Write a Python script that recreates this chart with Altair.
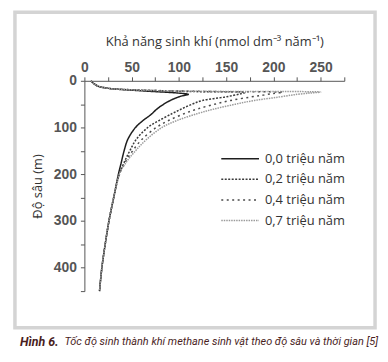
import altair as alt
import pandas as pd

series_names = ["0,0 triệu năm", "0,2 triệu năm", "0,4 triệu năm", "0,7 triệu năm"]

depth_00 = [0, 6, 12, 15, 17, 22, 26, 29, 33, 40, 50, 60, 73, 85, 100, 125, 150, 175, 200, 250, 300, 350, 400, 450]
value_00 = [7, 10, 15, 22, 29, 65, 98, 110, 102, 93, 84, 77, 70, 62, 54, 46, 42, 39, 36, 31, 26, 22, 18.5, 16]

depth_02 = [0, 6, 12, 15, 17, 20, 23, 25, 28, 31, 35, 42, 50, 60, 70, 85, 100, 125, 150, 175, 200, 250, 300, 350, 400, 450]
value_02 = [7, 10, 15, 22, 29, 62, 115, 170, 165, 158, 148, 125, 114, 103, 93, 79, 67, 55, 48, 42, 37, 31, 26, 22, 18.5, 16]

depth_04 = [0, 6, 12, 15, 17, 20, 22, 23.5, 24.5, 27, 31, 35, 42, 50, 60, 70, 85, 100, 125, 150, 175, 200, 250, 300, 350, 400, 450]
value_04 = [7, 10, 15, 22, 29, 62, 105, 160, 210, 200, 188, 175, 155, 138, 120, 106, 89, 76, 61, 51, 43, 37, 31, 26, 22, 18.5, 16]

depth_07 = [0, 6, 12, 15, 17, 20, 22, 23, 24, 26, 29, 35, 42, 50, 60, 70, 85, 100, 125, 150, 175, 200, 250, 300, 350, 400, 450]
value_07 = [7, 10, 15, 22, 29, 60, 105, 170, 250, 240, 225, 205, 180, 160, 138, 120, 98, 82, 66, 54, 44, 37, 31, 26, 22, 18.5, 16]

x_ticks = [0, 25, 50, 75, 100, 125, 150, 175, 200, 225, 250, 275]
y_ticks = [0, 50, 100, 150, 200, 250, 300, 350, 400, 450]

x_title = "Khả năng sinh khí (nmol dm⁻³ năm⁻¹)"
y_title = "Độ sâu (m)"
caption_bold = "Hình 6."
caption_rest = "Tốc độ sinh thành khí methane sinh vật theo độ sâu và thời gian [5]"

rows = []
for name, ds, vs in zip(series_names,
                        [depth_00, depth_02, depth_04, depth_07],
                        [value_00, value_02, value_04, value_07]):
    for i, (d, v) in enumerate(zip(ds, vs)):
        rows.append({"series": name, "depth": d, "value": v, "i": i})
df = pd.DataFrame(rows)

tick_font = "Liberation Sans, Arial, sans-serif"
text_font = "Open Sans, sans-serif"
cap_font = "Roboto, sans-serif"

legend_cfg = dict(title=None, orient="none", legendX=146.5, legendY=68,
                  symbolType="M-2,0L2,0", symbolSize=361,
                  symbolStrokeWidth=1.5, labelFont=text_font,
                  labelFontSize=13, labelColor="#333",
                  labelOffset=14.5, rowPadding=2.8)

lines = alt.Chart(df).mark_line(strokeWidth=1.5, clip=False, interpolate="catmull-rom").encode(
    x=alt.X("value:Q",
            scale=alt.Scale(domain=[0, 275], nice=False, zero=False),
            axis=alt.Axis(orient="top", values=x_ticks,
                          labelExpr="datum.value % 50 == 0 ? datum.label : ''",
                          title=x_title, titleFont=text_font, titleFontSize=13,
                          titleFontWeight="normal", titleColor="#333", titlePadding=13,
                          labelFont=tick_font, labelFontSize=14, labelFontWeight="bold",
                          labelColor="#555", labelPadding=2, tickSize=4,
                          tickColor="#555", domainColor="#555", grid=False,
                          labelFlush=False, labelOverlap=False)),
    y=alt.Y("depth:Q",
            scale=alt.Scale(domain=[0, 450], reverse=True, nice=False, zero=False),
            axis=alt.Axis(values=y_ticks,
                          labelExpr="datum.value % 100 == 0 ? datum.label : ''",
                          title=y_title, titleFont=text_font, titleFontSize=13,
                          titleFontWeight="normal", titleColor="#333", titlePadding=9,
                          labelFont=tick_font, labelFontSize=14, labelFontWeight="bold",
                          labelColor="#555", labelPadding=4, tickSize=4,
                          tickColor="#555", domainColor="#555", grid=False,
                          labelFlush=False, labelOverlap=False)),
    color=alt.Color("series:N",
                    scale=alt.Scale(domain=series_names,
                                    range=["#1e1e1e", "#3a3a3a", "#4a4a4a", "#9a9a9a"]),
                    legend=alt.Legend(**legend_cfg)),
    strokeDash=alt.StrokeDash("series:N",
                              scale=alt.Scale(domain=series_names,
                                              range=[[1, 0], [2, 1.5], [2, 3.5], [1.5, 1]]),
                              legend=alt.Legend(**legend_cfg)),
    order="i:Q",
)

one = pd.DataFrame({"a": [0]})

frame = alt.Chart(one).mark_rect(fill=None, stroke="#d4d4d4", strokeWidth=3.5).encode(
    x=alt.value(-70), x2=alt.value(293), y=alt.value(-69), y2=alt.value(249)
)

cap1 = alt.Chart(one).mark_text(
    align="left", baseline="middle", font=cap_font,
    fontSize=12.5, fontStyle="italic", fontWeight="bold", color="#4a1e1e"
).encode(x=alt.value(-65), y=alt.value(263), text=alt.value(caption_bold))

cap2 = alt.Chart(one).mark_text(
    align="left", baseline="middle", font=cap_font,
    fontSize=11, fontStyle="italic", color="#4a1e1e"
).encode(x=alt.value(-20), y=alt.value(263), text=alt.value(caption_rest))

chart = alt.layer(frame, lines, cap1, cap2).properties(
    width=262, height=212,
    autosize=alt.AutoSizeParams(type="none"),
    padding={"left": 77, "top": 72, "right": 36, "bottom": 62},
    background="white",
).configure_view(stroke=None)

chart.save("out.html", embed_options={"renderer": "svg", "actions": False})
